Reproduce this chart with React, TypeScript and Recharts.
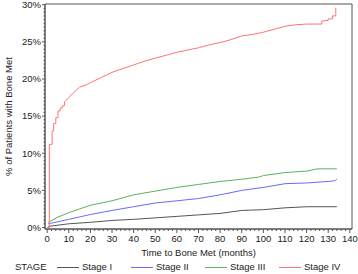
import React from 'react';
import { LineChart, Line, XAxis, YAxis, Legend, ReferenceArea } from 'recharts';

// months and cumulative % for each stage
const stage1Months = [0.5, 10, 20, 30, 40, 50, 60, 70, 80, 90, 100, 110, 120, 134];
const stage1Pct = [0.15, 0.5, 0.7, 0.95, 1.1, 1.3, 1.5, 1.7, 1.9, 2.3, 2.4, 2.65, 2.8, 2.8];

const stage2Months = [0.5, 10, 20, 30, 40, 50, 60, 70, 80, 90, 100, 110, 120, 130, 133, 134];
const stage2Pct = [0.5, 1.1, 1.75, 2.3, 2.8, 3.3, 3.6, 3.9, 4.4, 5.0, 5.4, 5.9, 6.0, 6.2, 6.3, 6.5];

const stage3Months = [0.5, 5, 10, 15, 20, 30, 40, 50, 60, 70, 80, 90, 98, 100, 110, 120, 125, 134];
const stage3Pct = [0.7, 1.4, 2.0, 2.5, 3.0, 3.6, 4.4, 4.9, 5.4, 5.8, 6.2, 6.5, 6.8, 7.0, 7.4, 7.6, 7.9, 7.9];

// stage IV: the early steps and the late jumps are kept as corner points
const stage4Months = [0, 1, 1, 2.3, 2.3, 3, 3, 4, 4, 5, 5, 6, 6, 7, 7, 8, 8, 10, 12, 15, 18, 20, 25, 30, 35, 40, 45, 50, 55, 60, 65, 70, 75, 80, 85, 90, 95, 100, 105, 110, 115, 120, 125, 127, 127, 130, 130, 132, 132, 133.5, 133.5];
const stage4Pct = [0, 0, 11.2, 11.2, 13.0, 13.0, 14.0, 14.0, 14.8, 14.8, 15.7, 15.7, 16.1, 16.1, 16.4, 16.4, 16.9, 17.5, 18.1, 18.9, 19.2, 19.5, 20.2, 20.9, 21.4, 21.9, 22.4, 22.8, 23.2, 23.6, 23.9, 24.2, 24.6, 24.9, 25.3, 25.8, 26.0, 26.3, 26.7, 27.1, 27.3, 27.4, 27.4, 27.4, 27.8, 27.9, 28.1, 28.1, 28.5, 28.5, 29.6];

const stageNames = ['Stage I', 'Stage II', 'Stage III', 'Stage IV'];
const stageColors = ['#555555', '#6a6aff', '#5fb05f', '#ff7474'];

const xMajorTicks = [0, 10, 20, 30, 40, 50, 60, 70, 80, 90, 100, 110, 120, 130, 140];
const yMajorTicks = [0, 5, 10, 15, 20, 25, 30];

const toRows = (months: number[], pct: number[]) => months.map((m, i) => ({ month: m, pct: pct[i] }));

const series = [
    { name: stageNames[0], color: stageColors[0], data: toRows(stage1Months, stage1Pct) },
    { name: stageNames[1], color: stageColors[1], data: toRows(stage2Months, stage2Pct) },
    { name: stageNames[2], color: stageColors[2], data: toRows(stage3Months, stage3Pct) },
    { name: stageNames[3], color: stageColors[3], data: toRows(stage4Months, stage4Pct) },
];

const xTicks: number[] = [];
for (let m = 0; m <= 140; m += 2) xTicks.push(m);
const yTicks: number[] = [];
for (let v = 0; v <= 30; v += 0.5) yTicks.push(v);

const FONT = '"Liberation Sans Narrow", "Liberation Sans", Arial, sans-serif';
const AXIS = '#555';

const XTick = (props: any) => {
    const { x, y, payload } = props;
    const major = xMajorTicks.includes(payload.value);
    return (
        <g>
            <line x1={x} y1={y} x2={x} y2={y + (major ? 4 : 2)} stroke={AXIS} strokeWidth={1} />
            {major && (
                <text x={x} y={y + 13} textAnchor="middle" fontSize={9.5} fontFamily={FONT} fill="#222">
                    {payload.value}
                </text>
            )}
        </g>
    );
};

const YTick = (props: any) => {
    const { x, y, payload } = props;
    const major = yMajorTicks.includes(payload.value);
    return (
        <g>
            <line x1={x - (major ? 3 : 1.5)} y1={y} x2={x} y2={y} stroke={AXIS} strokeWidth={1} />
            {major && (
                <text x={x - 4} y={y + 3.3} textAnchor="end" fontSize={9.5} fontFamily={FONT} fill="#222">
                    {payload.value}%
                </text>
            )}
        </g>
    );
};

const StageLegend = () => (
    <div style={{ position: 'relative', height: 14, fontFamily: FONT, fontSize: 9.5, color: '#222' }}>
        <span style={{ position: 'absolute', left: 15, top: 2 }}>STAGE</span>
        {series.map((s, i) => (
            <React.Fragment key={s.name}>
                <span style={{ position: 'absolute', left: 57 + i * 74, top: 8, width: 22, height: 0, borderTop: `1px solid ${s.color}` }} />
                <span style={{ position: 'absolute', left: 82 + i * 74, top: 2 }}>{s.name}</span>
            </React.Fragment>
        ))}
    </div>
);

export default function App() {
    return (
        <div style={{ position: 'absolute', left: 0, top: 0, background: '#fff' }}>
            <LineChart width={358} height={274} margin={{ top: 4, right: 6, left: 0, bottom: 1 }}>
                <XAxis
                    dataKey="month"
                    type="number"
                    domain={[-1, 141]}
                    ticks={xTicks}
                    interval={0}
                    allowDuplicatedCategory={false}
                    tickSize={0}
                    tickMargin={0}
                    tickLine={false}
                    tick={<XTick />}
                    axisLine={{ stroke: AXIS }}
                    height={30}
                    label={{ value: 'Time to Bone Met (months)', position: 'insideBottom', offset: 3, fontSize: 9.5, fontFamily: FONT, fill: '#222' }}
                />
                <YAxis
                    dataKey="pct"
                    type="number"
                    domain={[-0.2, 30.1]}
                    ticks={yTicks}
                    interval={0}
                    tickSize={0}
                    tickMargin={0}
                    tickLine={false}
                    tick={<YTick />}
                    axisLine={{ stroke: AXIS }}
                    width={45}
                    label={{ value: '% of Patients with Bone Met', angle: -90, position: 'insideLeft', offset: 9, fontSize: 9.5, fontFamily: FONT, fill: '#222', style: { textAnchor: 'middle' } }}
                />
                <ReferenceArea x1={-1} x2={141} y1={-0.2} y2={30.1} fill="none" stroke={AXIS} strokeWidth={1} />
                {series.map((s) => (
                    <Line
                        key={s.name}
                        data={s.data}
                        dataKey="pct"
                        name={s.name}
                        type="linear"
                        stroke={s.color}
                        strokeWidth={1}
                        dot={false}
                        isAnimationActive={false}
                    />
                ))}
                <Legend verticalAlign="bottom" height={14} content={<StageLegend />} />
            </LineChart>
        </div>
    );
}
